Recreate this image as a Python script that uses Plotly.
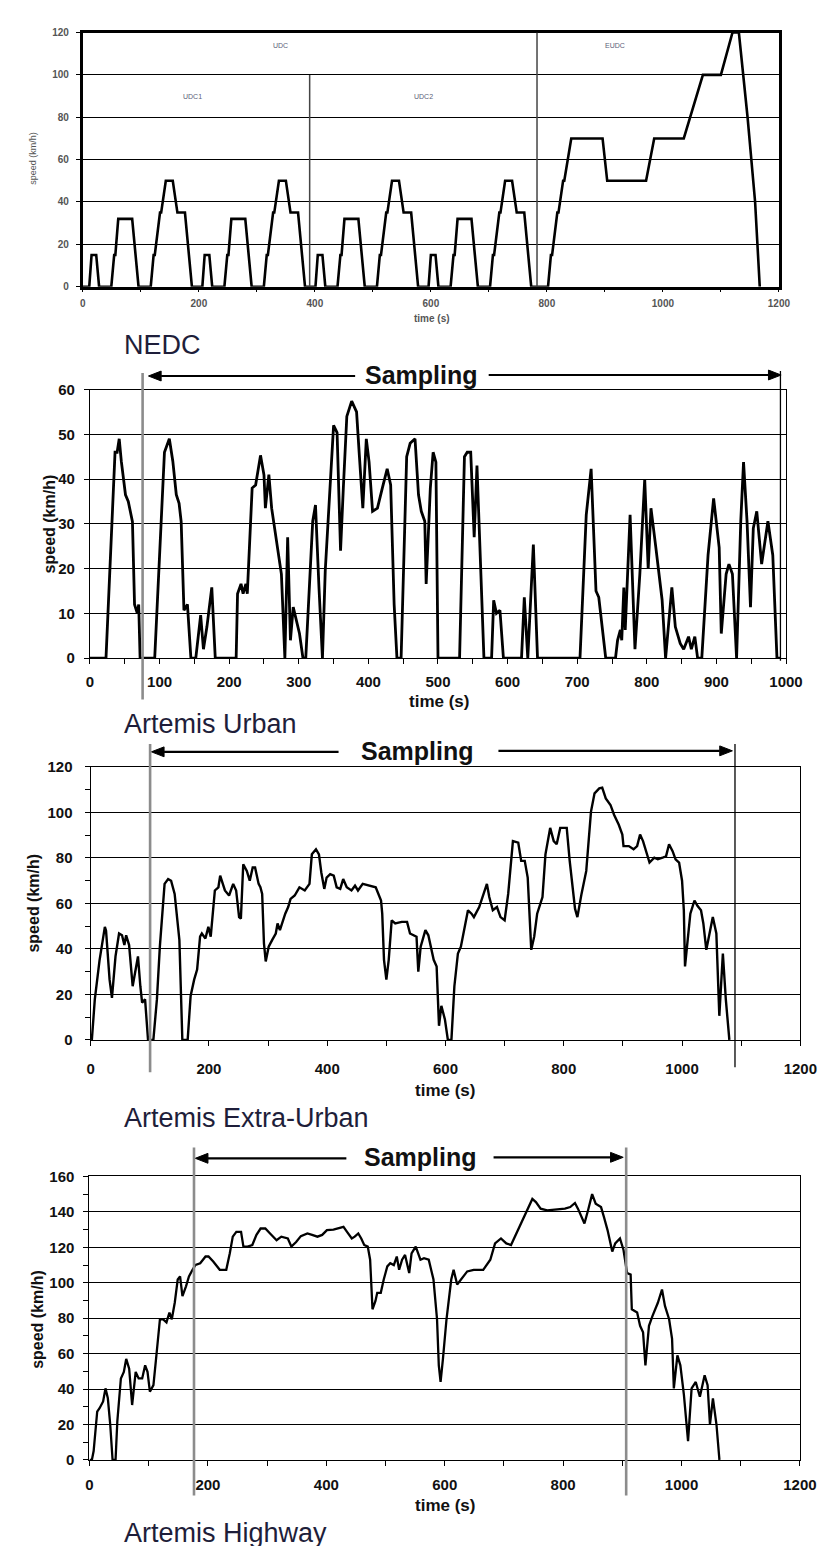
import plotly.graph_objects as go

W, H = 834, 1546
FONT = "Liberation Sans, Arial, sans-serif"

def px(x):
    return x / W

def py(y):
    return 1 - y / H

# ---------------- NEDC (time s, speed km/h) ----------------
nedc_t = [0, 11, 15, 23, 28, 49, 54, 56, 61, 85, 96, 117, 122, 124, 133, 135, 143, 155, 163, 176, 188, 195,
          206, 210, 218, 223, 244, 249, 251, 256, 280, 291, 312, 317, 319, 328, 330, 338, 350, 358, 371, 383, 390,
          401, 405, 413, 418, 439, 444, 446, 451, 475, 486, 507, 512, 514, 523, 525, 533, 545, 553, 566, 578, 585,
          596, 600, 608, 613, 634, 639, 641, 646, 670, 681, 702, 707, 709, 718, 720, 728, 740, 748, 761, 773, 780,
          802, 807, 809, 818, 820, 828, 830, 842, 896, 904, 971, 985, 1036, 1069, 1100, 1120, 1131, 1146, 1159, 1167]
nedc_v = [0, 0, 15, 15, 0, 0, 15, 15, 32, 32, 0, 0, 15, 15, 35, 35, 50, 50, 35, 35, 0, 0,
          0, 15, 15, 0, 0, 15, 15, 32, 32, 0, 0, 15, 15, 35, 35, 50, 50, 35, 35, 0, 0,
          0, 15, 15, 0, 0, 15, 15, 32, 32, 0, 0, 15, 15, 35, 35, 50, 50, 35, 35, 0, 0,
          0, 15, 15, 0, 0, 15, 15, 32, 32, 0, 0, 15, 15, 35, 35, 50, 50, 35, 35, 0, 0,
          0, 15, 15, 35, 35, 50, 50, 70, 70, 50, 50, 70, 70, 100, 100, 120, 120, 80, 40, 0]
nedc_phase_lines = [(391, 100), (783, 120)]
nedc_labels = [("UDC", 275, 29), ("UDC1", 185, 80), ("UDC2", 422, 80), ("EUDC", 619, 29)]

# ---------------- Artemis Urban ----------------
urban_t = [0, 23, 36, 39, 42, 45, 51, 55, 61, 64, 68, 70, 72, 93, 107, 114, 119, 124, 128, 131, 135, 140, 145,
           152, 159, 163, 168, 175, 180, 210, 212, 217, 220, 224, 226, 233, 238, 245, 250, 252, 257, 261, 275,
           280, 284, 288, 292, 296, 301, 306, 310, 320, 324, 329, 334, 338, 345, 350, 355, 360, 364, 369, 376,
           383, 387, 392, 397, 401, 406, 413, 420, 427, 432, 437, 441, 447, 455, 460, 467, 472, 476, 481, 483,
           489, 493, 497, 500, 531, 538, 542, 547, 552, 556, 561, 566, 577, 580, 584, 589, 594, 620, 624, 629,
           637, 643, 704, 713, 720, 727, 731, 741, 755, 758, 762, 764, 767, 769, 776, 783, 790, 797, 802, 806,
           813, 822, 827, 836, 841, 848, 853, 860, 864, 869, 873, 879, 888, 896, 904, 907, 914, 918, 923, 929,
           935, 939, 944, 949, 953, 958, 965, 970, 974, 981, 987, 992]
urban_v = [0, 0, 46, 46, 49, 44, 36.5, 35, 30.5, 12, 10, 12, 0, 0, 46, 49, 44, 36.5, 34.6, 30.5, 10.7, 12, 0,
           0, 9.6, 2, 7, 15.8, 0, 0, 14.4, 16.6, 14.4, 16.6, 14.4, 38, 38.7, 45.3, 40.9, 33.5, 41, 33.5, 18.8,
           0, 27, 4, 11.4, 8.5, 5.5, 0, 0, 30.6, 34.2, 15.8, 0, 19.5, 38, 52, 50.4, 24, 38, 54, 57.4,
           55, 45.3, 33.5, 49, 43.8, 32.8, 33.5, 38, 42.3, 38.7, 12, 0, 0, 45, 48, 49, 36.5, 32.8, 30.6, 16.6,
           38, 46, 43.8, 0, 0, 45, 46, 46, 27, 43, 23, 0, 0, 12.9, 10, 10.7, 0, 0, 13.6, 0,
           25.4, 0, 0, 32, 42.3, 15, 13.6, 0, 0, 4, 6.3, 4, 15.8, 6.3, 32, 2, 18.8, 40, 20, 33.5,
           24.7, 13, 0, 15.8, 7, 3.3, 2, 4.8, 2, 4.8, 0, 0, 23, 35.7, 24.7, 5.5, 18.8, 21, 18.8, 0,
           30.6, 43.8, 30.6, 11.4, 29, 32.8, 21, 26, 30.6, 23, 0, 0]
urban_sampling = (75.6, 992)

# ---------------- Artemis Extra-Urban ----------------
extra_t = [0, 2, 7, 15, 24, 26, 32, 36, 42, 48, 53, 57, 60, 65, 71, 76, 80, 84, 87, 92, 97, 106, 112, 117, 122,
           125, 131, 136, 142, 147, 150, 155, 164, 169, 175, 180, 185, 188, 194, 199, 203, 210, 216, 219, 223,
           227, 234, 241, 246, 251, 254, 258, 264, 269, 274, 278, 284, 287, 290, 293, 296, 301, 307, 313, 316,
           320, 329, 334, 338, 345, 353, 362, 370, 374, 381, 386, 390, 395, 399, 405, 411, 416, 422, 427, 433,
           441, 447, 452, 460, 471, 482, 491, 493, 496, 500, 504, 509, 515, 526, 535, 540, 551, 554, 558, 566,
           571, 580, 585, 589, 593, 599, 604, 610, 615, 621, 626, 632, 638, 644, 648, 657, 665, 670, 674, 680,
           687, 693, 700, 706, 714, 723, 728, 734, 739, 745, 750, 755, 764, 769, 777, 783, 788, 794, 805, 810,
           819, 823, 830, 838, 846, 852, 860, 865, 871, 879, 885, 893, 899, 901, 910, 918, 924, 929, 934, 940,
           945, 953, 959, 967, 973, 978, 984, 989, 995, 1000, 1003, 1005, 1010, 1014, 1021, 1026, 1032, 1036,
           1041, 1047, 1052, 1058, 1063, 1069, 1074, 1080]
extra_v = [0, 0, 17.8, 35, 49.7, 48, 26.5, 18.5, 36.7, 46.8, 46, 41.7, 46, 41.7, 23.6, 30.9, 36.7, 23.6, 16.4, 17.8, 0, 0, 17.8, 41, 61.3,
           68.6, 70.7, 70, 64.2, 49.7, 44, 0, 0, 19.3, 26.5, 30.9, 45.4, 46.8, 44.6, 49.7, 45.4, 65.7, 67.1, 72.2, 68.6,
           65.7, 63.5, 68.6, 65.7, 54, 53.3, 77.2, 74.3, 70, 75.8, 75.8, 68.6, 67.1, 64.2, 42.5, 34.5, 41, 44, 46.8, 51.2,
           48.3, 55.5, 58.4, 62, 63.5, 67.1, 65.7, 68.6, 81.6, 83.8, 81.6, 73.6, 66.4, 71.4, 72.9, 72.2, 67.1, 66.4, 70.7, 67.1,
           65.7, 67.8, 65.7, 68.6, 67.8, 67.1, 61.3, 55.5, 35.2, 26.5, 35.2, 52.6, 51.2, 51.9, 51.9, 46.8, 45.4, 30, 41, 48.3,
           46, 35.2, 32.3, 6.2, 15, 9, 0, 0, 23.6, 38, 41, 49.7, 57, 55.5, 54, 58.4, 64.2, 68.6, 62.8, 57,
           58.4, 54, 52.6, 64.2, 87.4, 86.7, 78.7, 78.7, 71.4, 39.6, 45.4, 55.5, 62.8, 81.6, 93.2, 87.4, 86, 93.2, 93.2, 78.7,
           57.7, 54, 64.2, 74.3, 100.4, 108.4, 110.6, 110.9, 106.2, 103.3, 99, 94.6, 90.3, 85.2, 85.2, 83.8, 85.2, 90.3, 87.4, 81.6,
           78, 80.1, 79.4, 80.1, 80.8, 86, 83, 79.4, 78, 70, 57, 32.3, 43.9, 55.5, 61.3, 59, 57, 51.2,
           39.6, 46.8, 54, 46.8, 10.6, 38, 17.8, 0]
extra_sampling = (100.5, 1089.5)

# ---------------- Artemis Highway ----------------
hwy_t = [0, 4, 7, 13, 17, 23, 27, 31, 35, 39, 44, 47, 53, 58, 62, 67, 72, 78, 83, 89, 94, 98, 102, 108, 113,
         119, 124, 130, 135, 139, 144, 149, 153, 157, 163, 168, 174, 179, 187, 196, 201, 209, 220, 231, 237,
         242, 248, 256, 260, 267, 275, 282, 289, 297, 305, 316, 324, 335, 341, 349, 357, 368, 376, 385, 393,
         401, 412, 421, 429, 435, 443, 448, 454, 459, 464, 470, 474, 478, 483, 486, 492, 497, 503, 508, 514,
         519, 523, 528, 533, 540, 544, 551, 559, 565, 573, 581, 587, 590, 593, 597, 603, 611, 615, 621, 627,
         638, 649, 665, 677, 685, 695, 704, 712, 721, 732, 740, 748, 754, 762, 773, 787, 803, 812, 820, 825,
         831, 836, 842, 849, 855, 864, 869, 875, 883, 888, 896, 902, 908, 914, 916, 925, 930, 935, 939, 945,
         951, 960, 967, 972, 979, 984, 987, 993, 998, 1004, 1011, 1017, 1024, 1031, 1039, 1044, 1048, 1053,
         1059, 1064]
hwy_v = [0, 0, 5, 27.3, 29.2, 33, 40.4, 34.8, 20, 0, 0, 21.8, 46, 49.7, 57, 51.5, 31, 49.7, 46, 46, 53.4, 49.7, 38.5, 42.2, 59,
         79.4, 79.4, 77.6, 83.2, 79.4, 88.7, 101.8, 103.6, 92.5, 98, 103.6, 107.3, 110, 111, 114.8, 114.8, 112, 107.3, 107.3, 116.6,
         126, 128.7, 128.7, 120.4, 120.4, 121.3, 127, 130.6, 130.6, 127.8, 124, 126, 125, 120.4, 123, 126.3, 127.8, 127, 126, 127,
         129.7, 130, 130.6, 131.5, 128.7, 125, 126, 127.8, 125, 121.3, 120.4, 113, 85, 89.7, 94.3, 94.3, 101.8, 109.2, 111, 110,
         114.8, 107.3, 113, 115.7, 105.5, 116.6, 120.4, 113, 113.9, 113, 101.8, 79.4, 53.4, 44, 57, 79.4, 101.8, 107.3, 99, 101.8,
         106.4, 107.3, 107.3, 113, 122.2, 125, 122.2, 121.3, 127.8, 135.3, 140.8, 147.3, 145.5, 141.8, 140.8, 141.2, 141.8, 142.7, 145, 141.8,
         137, 133.4, 140.8, 150, 144.6, 142.7, 137, 129.7, 117.6, 122.2, 125, 118.5, 105.5, 104.6, 85, 83.2, 75.7, 72, 53.4, 75.7,
         81.3, 88.7, 96.2, 86.9, 79.4, 68.3, 40.4, 59, 53.4, 36.7, 10.6, 40.4, 44, 35.7, 47.8, 42.2, 20, 34.8,
         20, 0]
hwy_sampling = (176.5, 906.5)

titles = ["NEDC", "Artemis Urban", "Artemis Extra-Urban", "Artemis Highway"]

fig = go.Figure()

def add_line(t, v, ax, width):
    fig.add_trace(go.Scatter(x=t, y=v, mode="lines", xaxis="x" + ax, yaxis="y" + ax,
                             line=dict(color="black", width=width), showlegend=False, hoverinfo="skip"))

add_line(nedc_t, nedc_v, "", 2.6)
add_line(urban_t, urban_v, "2", 2.8)
add_line(extra_t, extra_v, "3", 2.4)
add_line(hwy_t, hwy_v, "4", 2.3)

big_tick = dict(family=FONT, size=15, color="#111", weight="bold")
small_tick = dict(family=FONT, size=10, color="#555", weight="bold")

def xax(dom, rng, anchor, dtick, minor, font, lw, standoff, ticklen):
    return dict(domain=[px(dom[0]), px(dom[1])], range=rng, anchor=anchor, dtick=dtick, tick0=0,
                ticks="outside", ticklen=ticklen, tickwidth=1, tickcolor="black",
                minor=dict(dtick=minor, ticks="outside", ticklen=ticklen, tickwidth=1, tickcolor="black", showgrid=False),
                showline=True, linecolor="black", linewidth=lw, mirror=True, showgrid=False, zeroline=False,
                tickfont=font, ticklabelstandoff=standoff, fixedrange=True)

def yax(dom, rng, anchor, dtick, minor, font, lw, standoff, ticklen):
    d = dict(domain=[py(dom[0]), py(dom[1])], range=rng, anchor=anchor, dtick=dtick, tick0=0,
             ticks="outside", ticklen=ticklen, tickwidth=1, tickcolor="black",
             showline=True, linecolor="black", linewidth=lw, mirror=True,
             showgrid=True, gridcolor="black", gridwidth=1.4, zeroline=False,
             tickfont=font, ticklabelstandoff=standoff, fixedrange=True)
    if minor:
        d["minor"] = dict(dtick=minor, ticks="outside", ticklen=ticklen, tickwidth=1, tickcolor="black", showgrid=False)
    return d

fig.update_layout(
    width=W, height=H, margin=dict(l=0, r=0, t=0, b=0),
    plot_bgcolor="white", paper_bgcolor="white",
    xaxis=xax((72.7, 786.7), [0, 1200], "y", 200, 100, small_tick, 2.5, 3, 3),
    yaxis=yax((272.7, 15.7), [0, 120], "x", 20, None, small_tick, 3, 5, 4),
    xaxis2=xax((80, 794), [0, 1000], "y2", 100, 50, big_tick, 1.3, 5, 5),
    yaxis2=yax((648.3, 376.7), [0, 60], "x2", 10, None, big_tick, 1.3, 6, 5),
    xaxis3=xax((80.7, 808.7), [0, 1200], "y3", 200, 100, big_tick, 1.3, 10, 5),
    yaxis3=yax((1034.3, 758.3), [0, 120], "x3", 20, 10, big_tick, 1.3, 9, 5),
    xaxis4=xax((79.5, 808.3), [0, 1200], "y4", 200, 100, big_tick, 1.3, 6, 5),
    yaxis4=yax((1459, 1172.3), [0, 160], "x4", 20, 10, big_tick, 1.3, 6, 5),
)

ann = []
shapes = []

def text(s, x, y, size, color="#111", bold=False, xanchor="center", angle=0):
    ann.append(dict(text=s, x=px(x), y=py(y), xref="paper", yref="paper", showarrow=False,
                    xanchor=xanchor, yanchor="middle", textangle=angle,
                    font=dict(family=FONT, size=size, color=color, weight="bold" if bold else "normal")))

# panel titles
for s, y in zip(titles, [332, 715, 1113, 1533]):
    text(s, 113, y, 27, color="#1e1e3a", xanchor="left")

# axis titles
text("time (s)", 431, 305, 10, color="#555", bold=True)
text("speed (km/h)", 22, 143, 9, color="#555", angle=-90)
for x, y in [(438, 692), (444, 1085), (444, 1505)]:
    text("time (s)", x, y, 17, bold=True)
for x, y in [(38, 513), (22, 896), (26, 1317)]:
    text("speed (km/h)", x, y, 16, bold=True, angle=-90)

# NEDC phase labels
for s, x, y in nedc_labels:
    text(s, x, y, 7, color="#5a6078")

# NEDC phase separators
for t, top in nedc_phase_lines:
    shapes.append(dict(type="line", xref="x", yref="y", x0=t, x1=t, y0=0, y1=top,
                       line=dict(color="#444", width=1.5)))

# Sampling labels + arrows
def arrow(x_tail, x_tip, y):
    d = 1 if x_tip > x_tail else -1
    hl, hw = 13, 5
    base = x_tip - d * hl
    shapes.append(dict(type="line", xref="paper", yref="paper", x0=px(x_tail), x1=px(base), y0=py(y), y1=py(y),
                       line=dict(color="black", width=2.2)))
    path = "M %f,%f L %f,%f L %f,%f Z" % (px(x_tip), py(y), px(base), py(y - hw), px(base), py(y + hw))
    shapes.append(dict(type="path", xref="paper", yref="paper", path=path,
                       fillcolor="black", line=dict(color="black", width=1)))

for cx, y, lt, lh, rt, rh in [(420, 362, 352, 140, 489, 789),
                              (416, 742, 335, 143, 499, 739),
                              (419, 1153, 343, 188, 494, 627)]:
    ann.append(dict(text="Sampling", x=px(cx), y=py(y), xref="paper", yref="paper", showarrow=False,
                    xanchor="center", yanchor="middle",
                    font=dict(family=FONT, size=25, color="#111", weight="bold")))
    arrow(lt, lh, y + 1)
    arrow(rt, rh, y)

# Sampling window markers
def vline(ax, t, ytop, ybot, color, width):
    shapes.append(dict(type="line", xref=ax, yref="paper", x0=t, x1=t, y0=py(ybot), y1=py(ytop),
                       line=dict(color=color, width=width)))

vline("x2", urban_sampling[0], 360, 690, "#8c8c8c", 2.6)
vline("x2", urban_sampling[1], 358, 651, "black", 1.3)
vline("x3", extra_sampling[0], 735, 1067, "#8c8c8c", 2.6)
vline("x3", extra_sampling[1], 735, 1062, "black", 1.3)
vline("x4", hwy_sampling[0], 1143, 1495, "#8c8c8c", 2.6)
vline("x4", hwy_sampling[1], 1143, 1495, "#8c8c8c", 2.6)

fig.update_layout(annotations=ann, shapes=shapes)
fig.write_html("out.html")
